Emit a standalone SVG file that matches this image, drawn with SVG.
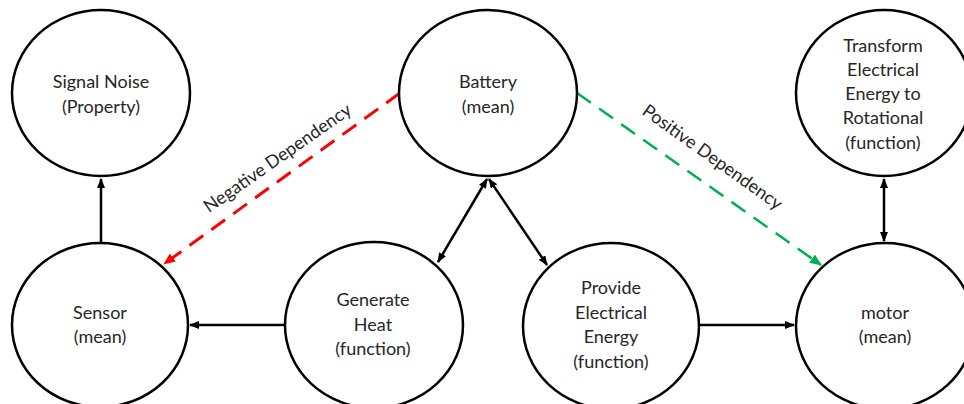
<svg xmlns="http://www.w3.org/2000/svg" width="964" height="404" viewBox="0 0 964 404">
  <style>
    .node ellipse { fill: #ffffff; stroke: #000000; stroke-width: 2.5; }
    .node text { font-family: Lato, "Open Sans", "Liberation Sans", sans-serif; font-size: 18px; fill: #262626; text-anchor: middle; }
    .edge { fill: none; stroke: #000000; stroke-width: 2.5; }
    .neg { fill: none; stroke: #ff0000; stroke-width: 3; stroke-dasharray: 17 10; }
    .pos { fill: none; stroke: #00b050; stroke-width: 2.5; stroke-dasharray: 17 10; }
    .label { font-family: Lato, "Open Sans", "Liberation Sans", sans-serif; font-size: 18px; fill: #262626; text-anchor: middle; }
  </style>
  <defs>
    <marker id="arrow" markerWidth="10" markerHeight="8" refX="9" refY="4" orient="auto-start-reverse" markerUnits="userSpaceOnUse">
      <path d="M0,0 L10,4 L0,8 Z" fill="#000000"/>
    </marker>
    <marker id="arrowRed" markerWidth="12" markerHeight="10" refX="11" refY="5" orient="auto" markerUnits="userSpaceOnUse">
      <path d="M0,0 L12,5 L0,10 Z" fill="#ff0000"/>
    </marker>
    <marker id="arrowGreen" markerWidth="12" markerHeight="10" refX="11" refY="5" orient="auto" markerUnits="userSpaceOnUse">
      <path d="M0,0 L12,5 L0,10 Z" fill="#00b050"/>
    </marker>
  </defs>

  <rect width="964" height="404" fill="#ffffff"/>

  <!-- connectors -->
  <g id="connectors">
    <line class="edge" x1="101" y1="242" x2="101" y2="179" marker-end="url(#arrow)"/>
    <line class="edge" x1="285" y1="325" x2="190" y2="325" marker-end="url(#arrow)"/>
    <line class="edge" x1="699" y1="325" x2="794" y2="325" marker-end="url(#arrow)"/>
    <line class="edge" x1="884" y1="179" x2="884" y2="241" marker-start="url(#arrow)" marker-end="url(#arrow)"/>
    <line class="edge" x1="487" y1="179" x2="438" y2="262" marker-start="url(#arrow)" marker-end="url(#arrow)"/>
    <line class="edge" x1="489" y1="179" x2="547" y2="265" marker-start="url(#arrow)" marker-end="url(#arrow)"/>
    <line class="neg" x1="400" y1="93" x2="164" y2="264" marker-end="url(#arrowRed)"/>
    <line class="pos" x1="577" y1="93" x2="821" y2="265" marker-end="url(#arrowGreen)"/>
    <text class="label" transform="translate(281,163) rotate(-35)">Negative Dependency</text>
    <text class="label" transform="translate(709,162) rotate(35.5)">Positive Dependency</text>
  </g>

  <!-- nodes -->
  <g id="signal-noise" class="node">
    <ellipse cx="101" cy="93" rx="89" ry="83"/>
    <text x="101" y="88">Signal Noise</text>
    <text x="101" y="113">(Property)</text>
  </g>
  <g id="battery" class="node">
    <ellipse cx="488" cy="93" rx="89" ry="83"/>
    <text x="488" y="88">Battery</text>
    <text x="488" y="113">(mean)</text>
  </g>
  <g id="transform" class="node">
    <ellipse cx="884" cy="93" rx="88" ry="83"/>
    <text x="883" y="52">Transform</text>
    <text x="883" y="76">Electrical</text>
    <text x="883" y="100">Energy to</text>
    <text x="883" y="124">Rotational</text>
    <text x="883" y="149">(function)</text>
  </g>
  <g id="sensor" class="node">
    <ellipse cx="100" cy="325" rx="88" ry="82"/>
    <text x="100" y="319">Sensor</text>
    <text x="100" y="343">(mean)</text>
  </g>
  <g id="generate-heat" class="node">
    <ellipse cx="374" cy="325" rx="89" ry="83"/>
    <text x="373" y="306">Generate</text>
    <text x="373" y="331">Heat</text>
    <text x="373" y="355">(function)</text>
  </g>
  <g id="provide-energy" class="node">
    <ellipse cx="611" cy="326" rx="88" ry="83"/>
    <text x="611" y="294">Provide</text>
    <text x="611" y="319">Electrical</text>
    <text x="611" y="343">Energy</text>
    <text x="611" y="368">(function)</text>
  </g>
  <g id="motor" class="node">
    <ellipse cx="885" cy="326" rx="89" ry="83"/>
    <text x="885" y="319">motor</text>
    <text x="885" y="343">(mean)</text>
  </g>
</svg>
